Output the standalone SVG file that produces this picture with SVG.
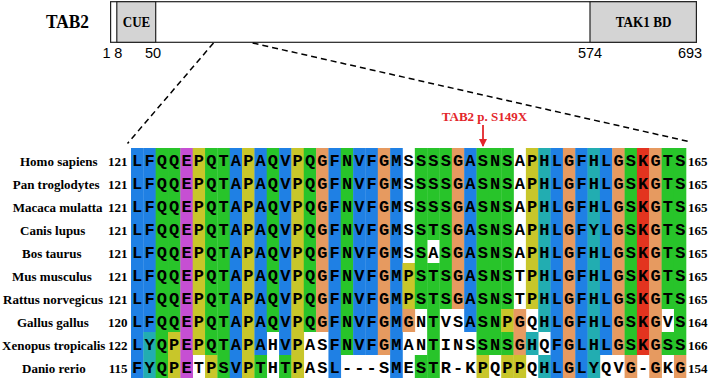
<svg xmlns="http://www.w3.org/2000/svg" width="709" height="380" viewBox="0 0 709 380">
<defs>
<style>
.b{fill:#1f80e4}.g{fill:#28c42a}.m{fill:#c64fd3}.y{fill:#c8c62a}.o{fill:#e69a60}.c{fill:#22adb1}.r{fill:#e3341f}
.aa{font-family:"Liberation Mono",monospace;font-weight:bold;font-size:17px;letter-spacing:2.14px;fill:#000}
.sp{font-family:"Liberation Serif",serif;font-weight:bold;font-size:13px;fill:#000}
.num{font-family:"Liberation Serif",serif;font-weight:bold;font-size:13px;fill:#000}
.dom{fill:#d4d4d4;stroke:#222;stroke-width:1.2}
.pos{font-family:"Liberation Sans",sans-serif;font-size:14.5px;fill:#000;text-anchor:middle}
.dash{stroke:#000;stroke-width:1.5;stroke-dasharray:6 4;fill:none}
</style>
<marker id="ah" markerWidth="8" markerHeight="8" viewBox="0 0 8 8" refX="7" refY="4" orient="auto" markerUnits="userSpaceOnUse">
<path d="M0,0 L8,4 L0,8 Z" fill="#e3262b"/>
</marker>
</defs>
<rect width="709" height="380" fill="#fff"/>

<g id="protein">
<rect x="110.6" y="1.7" width="585.8" height="40.6" fill="#fff" stroke="#222" stroke-width="1.2"/>
<rect class="dom" x="116.8" y="1.7" width="38.9" height="40.6"/>
<rect class="dom" x="590" y="1.7" width="106.4" height="40.6"/>
<text x="67.5" y="28.3" font-family="Liberation Serif,serif" font-weight="bold" font-size="18" text-anchor="middle" textLength="43" lengthAdjust="spacingAndGlyphs">TAB2</text>
<text x="136.5" y="27.3" font-family="Liberation Serif,serif" font-weight="bold" font-size="15.5" text-anchor="middle" textLength="27.5" lengthAdjust="spacingAndGlyphs">CUE</text>
<text x="643.6" y="27.3" font-family="Liberation Serif,serif" font-weight="bold" font-size="15.5" text-anchor="middle" textLength="55.6" lengthAdjust="spacingAndGlyphs">TAK1 BD</text>
<text class="pos" x="106.5" y="58.3">1</text>
<text class="pos" x="118.4" y="58.3">8</text>
<text class="pos" x="153" y="58.3">50</text>
<text class="pos" x="590" y="58.3">574</text>
<text class="pos" x="690" y="58.3">693</text>
</g>

<g id="connectors">
<line class="dash" x1="213.5" y1="43" x2="127.5" y2="143.5"/>
<line class="dash" x1="252.6" y1="43" x2="689.6" y2="141.7"/>
<line x1="483" y1="125" x2="483" y2="146" stroke="#e3262b" stroke-width="1.8" marker-end="url(#ah)"/>
</g>
<text x="484.5" y="120.7" font-family="Liberation Serif,serif" font-weight="bold" font-size="13" fill="#e3262b" text-anchor="middle">TAB2 p. S149X</text>

<g id="colors">
<rect class="b" x="131.00" y="148" width="12.64" height="230"/>
<rect class="b" x="143.34" y="148" width="12.64" height="184"/><rect class="c" x="143.34" y="332" width="12.64" height="46"/>
<rect class="g" x="155.68" y="148" width="12.64" height="230"/>
<rect class="g" x="168.02" y="148" width="12.64" height="184"/><rect class="y" x="168.02" y="332" width="12.64" height="46"/>
<rect class="m" x="180.36" y="148" width="12.64" height="230"/>
<rect class="y" x="192.70" y="148" width="12.64" height="207"/>
<rect class="g" x="205.04" y="148" width="12.64" height="207"/><rect class="y" x="205.04" y="355" width="12.64" height="23"/>
<rect class="g" x="217.38" y="148" width="12.64" height="230"/>
<rect class="b" x="229.72" y="148" width="12.64" height="230"/>
<rect class="y" x="242.06" y="148" width="12.64" height="230"/>
<rect class="b" x="254.40" y="148" width="12.64" height="207"/><rect class="g" x="254.40" y="355" width="12.64" height="23"/>
<rect class="g" x="266.74" y="148" width="12.64" height="184"/>
<rect class="b" x="279.08" y="148" width="12.64" height="207"/><rect class="g" x="279.08" y="355" width="12.64" height="23"/>
<rect class="y" x="291.42" y="148" width="12.64" height="230"/>
<rect class="g" x="303.76" y="148" width="12.64" height="184"/>
<rect class="o" x="316.10" y="148" width="12.64" height="184"/>
<rect class="b" x="328.44" y="148" width="12.64" height="230"/>
<rect class="g" x="340.78" y="148" width="12.64" height="207"/>
<rect class="b" x="353.12" y="148" width="12.64" height="207"/>
<rect class="b" x="365.46" y="148" width="12.64" height="207"/>
<rect class="o" x="377.80" y="148" width="12.64" height="207"/>
<rect class="b" x="390.14" y="148" width="12.64" height="230"/>
<rect class="y" x="402.48" y="263" width="12.64" height="46"/><rect class="o" x="402.48" y="309" width="12.64" height="23"/>
<rect class="g" x="414.82" y="148" width="12.64" height="161"/><rect class="g" x="414.82" y="355" width="12.64" height="23"/>
<rect class="g" x="427.16" y="148" width="12.64" height="92"/><rect class="g" x="427.16" y="263" width="12.64" height="115"/>
<rect class="g" x="439.50" y="148" width="12.64" height="161"/>
<rect class="o" x="451.84" y="148" width="12.64" height="161"/>
<rect class="b" x="464.18" y="148" width="12.64" height="184"/>
<rect class="g" x="476.52" y="148" width="12.64" height="207"/><rect class="y" x="476.52" y="355" width="12.64" height="23"/>
<rect class="g" x="488.86" y="148" width="12.64" height="207"/>
<rect class="g" x="501.20" y="148" width="12.64" height="161"/><rect class="y" x="501.20" y="309" width="12.64" height="23"/><rect class="g" x="501.20" y="332" width="12.64" height="23"/><rect class="y" x="501.20" y="355" width="12.64" height="23"/>
<rect class="o" x="513.54" y="309" width="12.64" height="46"/><rect class="y" x="513.54" y="355" width="12.64" height="23"/>
<rect class="y" x="525.88" y="148" width="12.64" height="161"/><rect class="c" x="525.88" y="332" width="12.64" height="23"/>
<rect class="c" x="538.22" y="148" width="12.64" height="184"/><rect class="c" x="538.22" y="355" width="12.64" height="23"/>
<rect class="b" x="550.56" y="148" width="12.64" height="230"/>
<rect class="o" x="562.90" y="148" width="12.64" height="230"/>
<rect class="b" x="575.24" y="148" width="12.64" height="230"/>
<rect class="c" x="587.58" y="148" width="12.64" height="230"/>
<rect class="b" x="599.92" y="148" width="12.64" height="207"/>
<rect class="o" x="612.26" y="148" width="12.64" height="207"/>
<rect class="g" x="624.60" y="148" width="12.64" height="207"/><rect class="o" x="624.60" y="355" width="12.64" height="23"/>
<rect class="r" x="636.94" y="148" width="12.64" height="207"/>
<rect class="o" x="649.28" y="148" width="12.64" height="230"/>
<rect class="g" x="661.62" y="148" width="12.64" height="161"/><rect class="g" x="661.62" y="332" width="12.64" height="23"/>
<rect class="g" x="673.96" y="148" width="12.34" height="207"/><rect class="o" x="673.96" y="355" width="12.34" height="23"/>
</g>

<g id="row-homo"><text class="sp" x="20" y="166">Homo sapiens</text><text class="num" x="127.5" y="166" text-anchor="end">121</text><text class="aa" x="132.1" y="166">LFQQEPQTAPAQVPQGFNVFGMSSSSGASNSAPHLGFHLGSKGTS</text><text class="num" x="688" y="166">165</text></g>
<g id="row-pan"><text class="sp" x="12.7" y="189">Pan troglodytes</text><text class="num" x="127.5" y="189" text-anchor="end">121</text><text class="aa" x="132.1" y="189">LFQQEPQTAPAQVPQGFNVFGMSSSSGASNSAPHLGFHLGSKGTS</text><text class="num" x="688" y="189">165</text></g>
<g id="row-macaca"><text class="sp" x="12.7" y="212">Macaca mulatta</text><text class="num" x="127.5" y="212" text-anchor="end">121</text><text class="aa" x="132.1" y="212">LFQQEPQTAPAQVPQGFNVFGMSSSSGASNSAPHLGFHLGSKGTS</text><text class="num" x="688" y="212">165</text></g>
<g id="row-canis"><text class="sp" x="20" y="235">Canis lupus</text><text class="num" x="127.5" y="235" text-anchor="end">121</text><text class="aa" x="132.1" y="235">LFQQEPQTAPAQVPQGFNVFGMSSTSGASNSAPHLGFYLGSKGTS</text><text class="num" x="688" y="235">165</text></g>
<g id="row-bos"><text class="sp" x="22" y="258">Bos taurus</text><text class="num" x="127.5" y="258" text-anchor="end">121</text><text class="aa" x="132.1" y="258">LFQQEPQTAPAQVPQGFNVFGMSSASGASNSAPHLGFHLGSKGTS</text><text class="num" x="688" y="258">165</text></g>
<g id="row-mus"><text class="sp" x="12" y="281">Mus musculus</text><text class="num" x="127.5" y="281" text-anchor="end">121</text><text class="aa" x="132.1" y="281">LFQQEPQTAPAQVPQGFNVFGMPSTSGASNSTPHLGFHLGSKGTS</text><text class="num" x="688" y="281">165</text></g>
<g id="row-rattus"><text class="sp" x="3" y="304">Rattus norvegicus</text><text class="num" x="127.5" y="304" text-anchor="end">121</text><text class="aa" x="132.1" y="304">LFQQEPQTAPAQVPQGFNVFGMPSTSGASNSTPHLGFHLGSKGTS</text><text class="num" x="688" y="304">165</text></g>
<g id="row-gallus"><text class="sp" x="17" y="327">Gallus gallus</text><text class="num" x="127.5" y="327" text-anchor="end">120</text><text class="aa" x="132.1" y="327">LFQQEPQTAPAQVPQGFNVFGMGNTVSASNPGQHLGFHLGSKGVS</text><text class="num" x="688" y="327">164</text></g>
<g id="row-xenopus"><text class="sp" x="2" y="350">Xenopus tropicalis</text><text class="num" x="127.5" y="350" text-anchor="end">122</text><text class="aa" x="132.1" y="350">LYQPEPQTAPAHVPASFNVFGMANTINSSNSGHQFGLHLGSKGSS</text><text class="num" x="688" y="350">166</text></g>
<g id="row-danio"><text class="sp" x="22" y="373">Danio rerio</text><text class="num" x="127.5" y="373" text-anchor="end">115</text><text class="aa" x="132.1" y="373">FYQPETPSVPTHTPASL---SMESTR-KPQPPQHLGLYQVG-GKG</text><text class="num" x="688" y="373">154</text></g>
</svg>
